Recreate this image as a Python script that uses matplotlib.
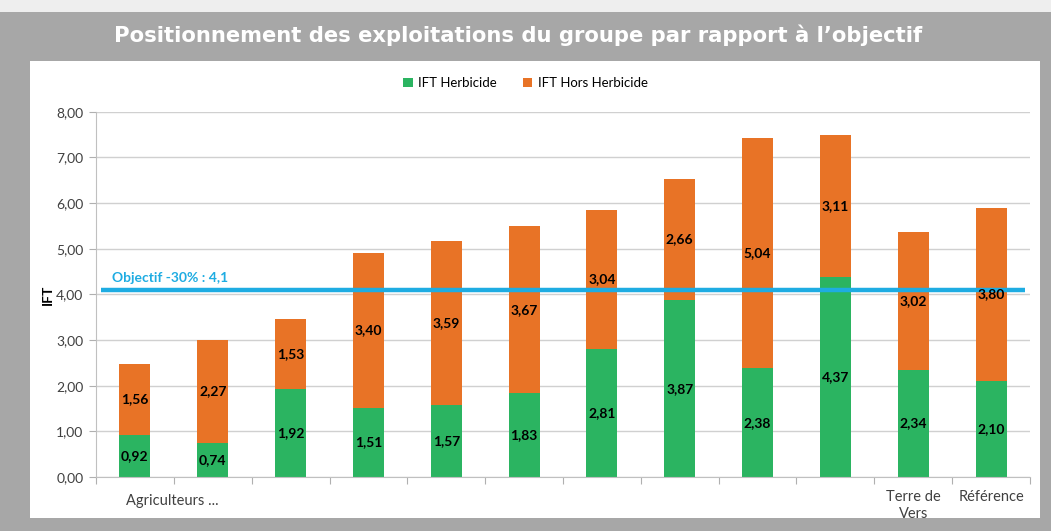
import numpy as np
import matplotlib
matplotlib.use("Agg")
import matplotlib.pyplot as plt
from matplotlib.patches import Rectangle

categories = ["Agriculteurs ...", "", "", "", "", "", "", "", "", "", "Terre de\nVers", "Référence"]
ift_herbicide = [0.92, 0.74, 1.92, 1.51, 1.57, 1.83, 2.81, 3.87, 2.38, 4.37, 2.34, 2.10]
ift_hors_herbicide = [1.56, 2.27, 1.53, 3.40, 3.59, 3.67, 3.04, 2.66, 5.04, 3.11, 3.02, 3.80]
objectif = 4.1
yticks = [0, 1, 2, 3, 4, 5, 6, 7, 8]

green = "#2bb461"
orange = "#e87326"
cyan = "#1eace2"

plt.rcParams["font.family"] = ["Lato", "DejaVu Sans"]

fig = plt.figure(figsize=(10.51, 5.31), dpi=100)
fig.patch.set_facecolor("#a7a7a7")

# light strip at top and white panel
fig.add_artist(Rectangle((0, 1 - 12 / 531), 1, 12 / 531, transform=fig.transFigure,
                         facecolor="#eeeeee", edgecolor="none", zorder=0))
fig.add_artist(Rectangle((30 / 1051, 13 / 531), 1010 / 1051, 457 / 531, transform=fig.transFigure,
                         facecolor="white", edgecolor="none", zorder=0))

fig.text(0.493, 1 - 35 / 531, "Positionnement des exploitations du groupe par rapport à l’objectif",
         ha="center", va="center", color="white", fontsize=15.2, fontweight="bold",
         family="DejaVu Sans")

ax = fig.add_axes([96 / 1051, 54 / 531, 934 / 1051, 365.3 / 531])
ax.set_facecolor("none")
x = np.arange(len(categories))
w = 0.4
b1 = ax.bar(x, ift_herbicide, w, color=green, label="IFT Herbicide", zorder=2)
b2 = ax.bar(x, ift_hors_herbicide, w, bottom=ift_herbicide, color=orange,
            label="IFT Hors Herbicide", zorder=2)

for i in range(len(x)):
    h = ift_herbicide[i]
    o = ift_hors_herbicide[i]
    ax.text(x[i], h / 2, f"{h:.2f}".replace(".", ","), ha="center", va="center",
            fontsize=10, fontweight="bold", color="black", zorder=4)
    ax.text(x[i], h + o / 2, f"{o:.2f}".replace(".", ","), ha="center", va="center",
            fontsize=10, fontweight="bold", color="black", zorder=4)

ax.plot([-0.43, 11.43], [objectif, objectif], color=cyan, lw=3.2, zorder=3,
        solid_capstyle="butt")
ax.text(-0.3, objectif + 0.12, "Objectif -30% : 4,1", color=cyan, fontsize=10,
        fontweight="bold", ha="left", va="bottom", zorder=4)

ax.set_xlim(-0.5, len(categories) - 0.5)
ax.set_ylim(0, 8)
ax.set_yticks(yticks)
ax.set_yticklabels([f"{v:.2f}".replace(".", ",") for v in yticks], fontsize=10, color="#404040")
ax.yaxis.grid(True, color="#d0d0d0", lw=1, zorder=0)
ax.set_axisbelow(True)

ax.set_xticks(np.arange(-0.5, len(categories), 1), minor=False)
ax.set_xticklabels([])
ax.tick_params(axis="x", length=5, color="#b0b0b0")
ax.tick_params(axis="y", length=5, color="#b0b0b0", pad=4)
for i, c in enumerate(categories):
    if c:
        xpos = x[i] + 0.48 if i == 0 else x[i]
        ypos = -0.38 if i == 0 else -0.28
        ax.text(xpos, ypos, c, ha="center", va="top", fontsize=10.5,
                color="#404040", transform=ax.transData, linespacing=1.25)

for s in ["top", "right"]:
    ax.spines[s].set_visible(False)
ax.spines["left"].set_color("#c0c0c0")
ax.spines["bottom"].set_color("#c0c0c0")

ax.set_ylabel("IFT", fontsize=10, fontweight="bold", labelpad=2)

fig.legend(handles=[b1, b2], loc="center", bbox_to_anchor=(0.5, 1 - 83 / 531), ncol=2,
           frameon=False, fontsize=9.5, handlelength=0.7, handleheight=0.7,
           handletextpad=0.4, columnspacing=2.0)

fig.savefig("out.png", dpi=100)
